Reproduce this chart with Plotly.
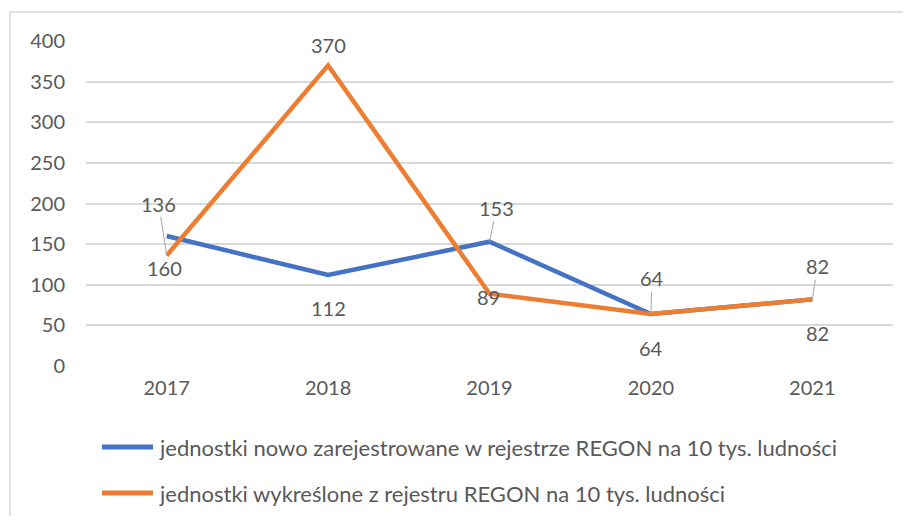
import plotly.graph_objects as go

years = ["2017", "2018", "2019", "2020", "2021"]
nowo = [160, 112, 153, 64, 82]
wykreslone = [136, 370, 89, 64, 82]
name_nowo = "jednostki nowo zarejestrowane w rejestrze REGON na 10 tys. ludności"
name_wykr = "jednostki wykreślone z rejestru REGON na 10 tys. ludności"
y_ticks = [0, 50, 100, 150, 200, 250, 300, 350, 400]

BLUE = "#4472C4"
ORANGE = "#ED7D31"
GRID = "#D9D9D9"
TXT = "#595959"
FONT = "Lato"

# page body has an 8px margin; figure sized to fit inside it
OFF = 8
W, H = 911 - 2 * OFF, 524 - 2 * OFF
ML, MR, MT, MB = 86 - OFF, W - (893 - OFF), 41 - OFF, H - (366 - OFF)
pw = W - ML - MR
ph = H - MT - MB


def px(X):
    return (X - OFF - ML) / pw


def py(Y):
    return 1 - (Y - OFF - MT) / ph


fig = go.Figure()
fig.add_trace(go.Scatter(x=years, y=nowo, mode="lines", name=name_nowo,
                         line=dict(color=BLUE, width=4.5), showlegend=False,
                         hoverinfo="x+y"))
fig.add_trace(go.Scatter(x=years, y=wykreslone, mode="lines", name=name_wykr,
                         line=dict(color=ORANGE, width=4.5), showlegend=False,
                         hoverinfo="x+y"))

# data label placement: shift labels use dy positive = up (yshift);
# arrow labels use screen offsets (ay negative = above the point)
label_specs = [
    (nowo, 0, "shift", -2, -32),
    (wykreslone, 0, "arrow", -8, -52),
    (wykreslone, 1, "shift", 0, 20),
    (nowo, 1, "shift", 0, -33),
    (nowo, 2, "arrow", 7, -34),
    (wykreslone, 2, "shift", -1, -3),
    (nowo, 3, "arrow", 1, -36),
    (wykreslone, 3, "shift", 0, -34),
    (nowo, 4, "arrow", 5, -33),
    (wykreslone, 4, "shift", 5, -34),
]
for series, i, mode, dx, dy in label_specs:
    # category axes: annotation x given as category index
    common = dict(x=i, y=series[i], xref="x", yref="y",
                  text=str(series[i]), font=dict(family=FONT, size=20, color=TXT))
    if mode == "arrow":
        fig.add_annotation(**common, showarrow=True, arrowhead=0, arrowwidth=1,
                           arrowcolor="#A6A6A6", ax=dx, ay=dy, standoff=0)
    else:
        fig.add_annotation(**common, showarrow=False, xshift=dx, yshift=dy)

# manual legend
for name, color, Y in [(name_nowo, BLUE, 447), (name_wykr, ORANGE, 493)]:
    fig.add_shape(type="line", xref="paper", yref="paper",
                  x0=px(102), x1=px(153), y0=py(Y), y1=py(Y),
                  line=dict(color=color, width=5))
    fig.add_annotation(x=px(157), y=py(Y), xref="paper", yref="paper",
                       text=name, showarrow=False, xanchor="left", yanchor="middle",
                       font=dict(family=FONT, size=22, color=TXT))

# outer chart border (left and top visible)
fig.add_shape(type="rect", xref="paper", yref="paper",
              x0=px(10), x1=px(930), y0=py(540), y1=py(12),
              line=dict(color=GRID, width=1.5), layer="below")

fig.update_layout(
    width=W, height=H,
    margin=dict(l=ML, r=MR, t=MT, b=MB),
    paper_bgcolor="white", plot_bgcolor="white",
    font=dict(family=FONT, size=20, color=TXT),
    showlegend=False,
    xaxis=dict(type="category", range=[-0.5, 4.5], showgrid=False, showline=False,
               zeroline=False, ticks="", ticklabelstandoff=8,
               tickfont=dict(size=20, color=TXT)),
    yaxis=dict(range=[0, 400], tickvals=y_ticks, showgrid=True, gridcolor=GRID,
               gridwidth=1.5, zeroline=False, showline=False, ticks="",
               ticklabelstandoff=20, tickfont=dict(size=20, color=TXT)),
)

fig.write_html("out.html")
